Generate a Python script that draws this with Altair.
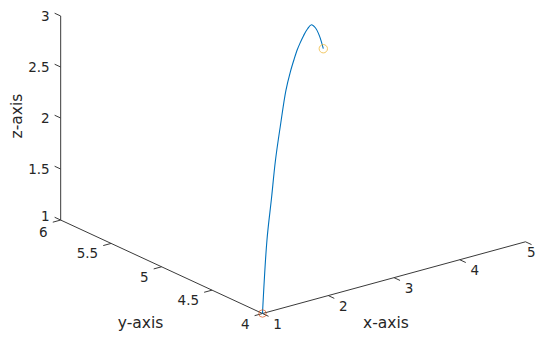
import math
import altair as alt
import pandas as pd

# ---- data (3-D trajectory) ----
curve_x = [1.0, 1.244, 1.488, 1.705, 1.977, 2.275, 2.519, 2.726, 2.899, 3.035, 3.225, 3.442, 3.659, 3.876, 4.093, 4.31]
curve_y = [4.0, 4.115, 4.229, 4.331, 4.459, 4.599, 4.713, 4.810, 4.892, 4.955, 5.044, 5.146, 5.248, 5.350, 5.452, 5.554]
curve_z = [1.0, 1.620, 1.936, 2.224, 2.461, 2.687, 2.778, 2.822, 2.845, 2.853, 2.852, 2.835, 2.792, 2.677, 2.515, 2.302]

x_ticks = [1, 2, 3, 4, 5]
y_ticks = [4, 4.5, 5, 5.5, 6]
z_ticks = [1, 1.5, 2, 2.5, 3]
x_labels = ["1", "2", "3", "4", "5"]
y_labels = ["4", "4.5", "5", "5.5", "6"]
z_labels = ["1", "1.5", "2", "2.5", "3"]

XLIM = [1, 5]
YLIM = [4, 6]
ZLIM = [1, 3]

# view (MATLAB default 3-D view)
AZ, EL = -37.5, 30.0
ca, sa = math.cos(math.radians(AZ)), math.sin(math.radians(AZ))
se, ce = math.sin(math.radians(EL)), math.cos(math.radians(EL))

XDOM = [-0.7677, 0.8281]
YDOM = [-0.0785, 1.2967]
FONT = "DejaVu Sans"
TXT = "#262626"
AXC = "#3a3a3a"


def proj(fx, fy, fz, ox="sx", oy="su"):
    xn = f"((datum.{fx}) - {XLIM[0]}) / {XLIM[1] - XLIM[0]}"
    yn = f"((datum.{fy}) - {YLIM[0]}) / {YLIM[1] - YLIM[0]}"
    zn = f"((datum.{fz}) - {ZLIM[0]}) / {ZLIM[1] - ZLIM[0]}"
    return {
        ox: f"{ca}*{xn} + {sa}*{yn}",
        oy: f"{-se * sa}*{xn} + {se * ca}*{yn} + {ce}*{zn}",
    }


def X(f):
    return alt.X(f"{f}:Q", scale=alt.Scale(domain=XDOM, nice=False, zero=False), axis=None)


def Y(f):
    return alt.Y(f"{f}:Q", scale=alt.Scale(domain=YDOM, nice=False, zero=False), axis=None)


# ---- curve ----
curve_df = pd.DataFrame({"x": curve_x, "y": curve_y, "z": curve_z, "i": list(range(len(curve_x)))})
curve = alt.Chart(curve_df).transform_calculate(**proj("x", "y", "z")).mark_line(
    color="#0072BD", strokeWidth=1.1, interpolate="catmull-rom"
).encode(x=X("sx"), y=Y("su"), order="i:Q")

start_df = curve_df.iloc[[0]]
end_df = curve_df.iloc[[-1]]
start_pt = alt.Chart(start_df).transform_calculate(**proj("x", "y", "z")).mark_point(
    shape="circle", filled=False, size=55, strokeWidth=1, color="#D95319"
).encode(x=X("sx"), y=Y("su"))
end_pt = alt.Chart(end_df).transform_calculate(**proj("x", "y", "z")).mark_point(
    shape="circle", filled=False, size=70, strokeWidth=1, color="#EDB120"
).encode(x=X("sx"), y=Y("su"))

# ---- axis lines ----
axes_df = pd.DataFrame({
    "x": [XLIM[0], XLIM[0], XLIM[0]],
    "y": [YLIM[0], YLIM[0], YLIM[1]],
    "z": [ZLIM[0], ZLIM[0], ZLIM[0]],
    "x2": [XLIM[1], XLIM[0], XLIM[0]],
    "y2": [YLIM[0], YLIM[1], YLIM[1]],
    "z2": [ZLIM[0], ZLIM[0], ZLIM[1]],
})
TL = 0.03
tick_rows = []
for t in x_ticks:
    tick_rows.append((t, YLIM[0], ZLIM[0], t, YLIM[0] - TL * (YLIM[1] - YLIM[0]), ZLIM[0]))
for t in y_ticks:
    tick_rows.append((XLIM[0], t, ZLIM[0], XLIM[0] - TL * (XLIM[1] - XLIM[0]), t, ZLIM[0]))
for t in z_ticks:
    tick_rows.append((XLIM[0], YLIM[1], t, XLIM[0], YLIM[1] + TL * (YLIM[1] - YLIM[0]), t))
ticks_df = pd.DataFrame(tick_rows, columns=["x", "y", "z", "x2", "y2", "z2"])
segs_df = pd.concat([axes_df, ticks_df], ignore_index=True)

segs = alt.Chart(segs_df).transform_calculate(
    **proj("x", "y", "z"), **proj("x2", "y2", "z2", "sx2", "su2")
).mark_rule(color=AXC, strokeWidth=1).encode(
    x=X("sx"), y=Y("su"), x2="sx2:Q", y2="su2:Q"
)

# ---- tick labels ----
xl_df = pd.DataFrame({"x": x_ticks, "y": [YLIM[0]] * 5, "z": [ZLIM[0]] * 5, "t": x_labels})
yl_df = pd.DataFrame({"x": [XLIM[0]] * 5, "y": y_ticks, "z": [ZLIM[0]] * 5, "t": y_labels})
zl_df = pd.DataFrame({"x": [XLIM[0]] * 5, "y": [YLIM[1]] * 5, "z": z_ticks, "t": z_labels})


def labels(df, align, dx, dy):
    return alt.Chart(df).transform_calculate(**proj("x", "y", "z")).mark_text(
        font=FONT, fontSize=13.5, color=TXT, align=align, baseline="middle", dx=dx, dy=dy
    ).encode(x=X("sx"), y=Y("su"), text="t:N")


xl = labels(xl_df.iloc[:4], "center", 15, 11)
xl_last = labels(xl_df.iloc[4:], "right", 10, 11)
yl = labels(yl_df.iloc[:4], "right", -13, 11)
yl_last = labels(yl_df.iloc[4:], "right", -13, 13)
zl_first = labels(zl_df.iloc[:1], "right", -11, -3)
zl = labels(zl_df.iloc[1:], "right", -11, 0.5)

# ---- axis titles ----
mid = lambda a: (a[0] + a[1]) / 2
xt_df = pd.DataFrame({"x": [mid(XLIM)], "y": [YLIM[0]], "z": [ZLIM[0]], "t": ["x-axis"]})
yt_df = pd.DataFrame({"x": [XLIM[0]], "y": [mid(YLIM)], "z": [ZLIM[0]], "t": ["y-axis"]})
zt_df = pd.DataFrame({"x": [XLIM[0]], "y": [YLIM[1]], "z": [mid(ZLIM)], "t": ["z-axis"]})


def title(df, dx, dy, angle=0):
    return alt.Chart(df).transform_calculate(**proj("x", "y", "z")).mark_text(
        font=FONT, fontSize=15.5, color=TXT, align="center", baseline="middle",
        dx=dx, dy=dy, angle=angle
    ).encode(x=X("sx"), y=Y("su"), text="t:N")


xt = title(xt_df, -8, 45)
yt = title(yt_df, -21, 56)
zt = title(zt_df, 2, -44, angle=270)

chart = alt.layer(
    segs, curve, start_pt, end_pt, xl, xl_last, yl, yl_last, zl_first, zl, xt, yt, zt
).properties(
    width=529, height=324, padding=0, background="white",
    autosize=alt.AutoSizeParams(type="none"),
).configure_view(stroke=None)

chart.save("out.html", embed_options={"renderer": "svg", "actions": False})
